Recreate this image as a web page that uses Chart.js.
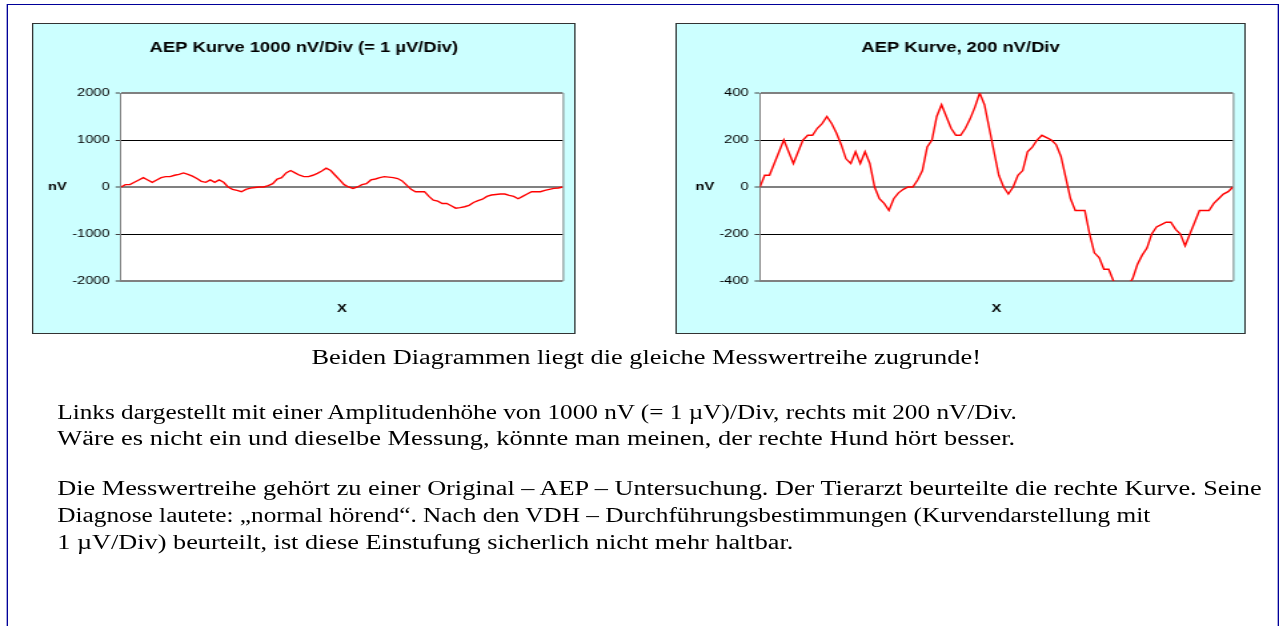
<!DOCTYPE html>
<html>
<head>
<meta charset="utf-8">
<script src="https://cdn.jsdelivr.net/npm/chart.js@4/dist/chart.umd.min.js"></script>
<style>
  html, body { margin:0; padding:0; background:#fff; overflow:hidden; }
  #page { position:absolute; left:0; top:0; width:960px; height:626px; transform:scaleX(1.3323); transform-origin:0 0; }
  #frame { position:absolute; left:5px; top:4px; width:953px; height:700px; border:1px solid #000099; }
  .box { position:absolute; top:23px; height:309px; background:#ccffff; border:1px solid #333; }
  .box canvas { display:block; }
  .ln { position:absolute; left:43px; font-family:"Liberation Serif", "Times New Roman", serif; font-size:20px; line-height:26px; color:#000; white-space:nowrap; transform-origin:0 0; }
</style>
</head>
<body>
<div id="page">
  <div id="frame"></div>
  <div class="box" style="left:24px; width:406px;"><canvas id="leftChart" width="406" height="309"></canvas></div>
  <div class="box" style="left:507px; width:426px;"><canvas id="rightChart" width="426" height="309"></canvas></div>

  <div class="ln" style="left:43px; width:884px; top:344px; text-align:center; transform-origin:50% 0; transform:scaleX(0.99);">Beiden Diagrammen liegt die gleiche Messwertreihe zugrunde!</div>
  <div class="ln" style="top:399px; transform:scaleX(0.947);">Links dargestellt mit einer Amplitudenhöhe von 1000 nV (= 1 µV)/Div, rechts mit 200 nV/Div.</div>
  <div class="ln" style="top:425px; transform:scaleX(0.992);">Wäre es nicht ein und dieselbe Messung, könnte man meinen, der rechte Hund hört besser.</div>
  <div class="ln" style="top:475px; transform:scaleX(0.986);">Die Messwertreihe gehört zu einer Original – AEP – Untersuchung. Der Tierarzt beurteilte die rechte Kurve. Seine</div>
  <div class="ln" style="top:502px; transform:scaleX(0.949);">Diagnose lautete: „normal hörend“. Nach den VDH – Durchführungsbestimmungen (Kurvendarstellung mit</div>
  <div class="ln" style="top:529px; transform:scaleX(0.985);">1 µV/Div) beurteilt, ist diese Einstufung sicherlich nicht mehr haltbar.</div>
</div>

<script>
// measurement series (nV), same for both charts
const aepValues = [
  0, 50, 50, 100, 150, 200, 150, 100, 150, 200,
  220, 220, 250, 270, 300, 270, 230, 180, 120, 100,
  150, 100, 150, 100, 0, -50, -70, -100, -50, -25,
  -10, 0, 0, 30, 70, 170, 200, 300, 350, 300,
  250, 220, 220, 250, 290, 340, 400, 350, 250, 150,
  50, 0, -30, 0, 50, 70, 150, 170, 200, 220,
  210, 200, 180, 130, 40, -50, -100, -100, -100, -200,
  -280, -300, -350, -350, -400, -450, -440, -420, -390, -330,
  -290, -260, -200, -170, -160, -150, -150, -180, -200, -250,
  -200, -150, -100, -100, -100, -70, -50, -30, -20, 0
];
const xLabels = Array.from({length: aepValues.length}, (_, i) => i + 1);

const leftTicks = [-2000, -1000, 0, 1000, 2000];
const rightTicks = [-400, -200, 0, 200, 400];

const leftTitle = "AEP Kurve 1000 nV/Div (= 1 µV/Div)";
const rightTitle = "AEP Kurve, 200 nV/Div";
const yName = "nV";
const xName = "X";

const FONT = '"Liberation Sans", Arial, sans-serif';

// white plot area + frame + the texts excel puts round it
const plotDeco = {
  id: "plotDeco",
  beforeDraw(chart){
    const {ctx, chartArea:a} = chart;
    ctx.save();
    ctx.fillStyle = "#fff";
    ctx.fillRect(a.left, a.top, a.right - a.left, a.bottom - a.top);
    ctx.restore();
  },
  afterDraw(chart, args, opts){
    const {ctx, chartArea:a} = chart;
    ctx.save();
    ctx.strokeStyle = "#808080";
    ctx.lineWidth = 1;
    ctx.beginPath();
    ctx.moveTo(a.right + 0.5, a.top);
    ctx.lineTo(a.right + 0.5, a.bottom);
    ctx.stroke();

    ctx.fillStyle = "#000";
    ctx.textAlign = "center";
    ctx.textBaseline = "middle";
    ctx.font = "bold 13.8px " + FONT;
    ctx.fillText(opts.title, chart.width / 2, 24);

    ctx.font = "bold 11px " + FONT;
    const y0 = chart.scales.y.getPixelForValue(0);
    ctx.fillText(yName, opts.nvX, y0);
    ctx.fillText(xName, (a.left + a.right) / 2, a.bottom + 28);
    ctx.restore();
  }
};

function makeChart(id, ticks, title, yWidth, nvX){
  const last = ticks.length - 1;
  return new Chart(document.getElementById(id), {
    type: "line",
    data: {
      labels: xLabels,
      datasets: [{
        data: aepValues,
        borderColor: "#ff0000",
        borderWidth: 1.4,
        pointRadius: 0,
        tension: 0,
        clip: 0
      }]
    },
    options: {
      responsive: false,
      animation: false,
      layout: { padding: { top: 69, right: 8.6, bottom: 52, left: 0 } },
      plugins: {
        legend: { display: false },
        tooltip: { enabled: false },
        plotDeco: { title, nvX }
      },
      scales: {
        x: { display: false },
        y: {
          min: ticks[0],
          max: ticks[last],
          afterBuildTicks: s => { s.ticks = ticks.map(v => ({ value: v })); },
          afterFit: s => { s.width = yWidth; },
          border: { display: true, color: "#808080", width: 1 },
          grid: {
            drawTicks: true,
            tickLength: 4,
            color: c => (c.index === 0 || c.index === last || c.tick.value === 0) ? "#808080" : "#000",
            lineWidth: c => (c.index === 0 || c.index === last || c.tick.value === 0) ? 2 : 1,
            tickColor: "#404040",
            tickWidth: 1
          },
          ticks: {
            padding: 4.5,
            color: "#000",
            font: { family: FONT, size: 11 },
            callback: v => String(v)
          }
        }
      }
    },
    plugins: [plotDeco]
  });
}

makeChart("leftChart", leftTicks, leftTitle, 65.8, 18);
makeChart("rightChart", rightTicks, rightTitle, 62.4, 21);
</script>
</body>
</html>
